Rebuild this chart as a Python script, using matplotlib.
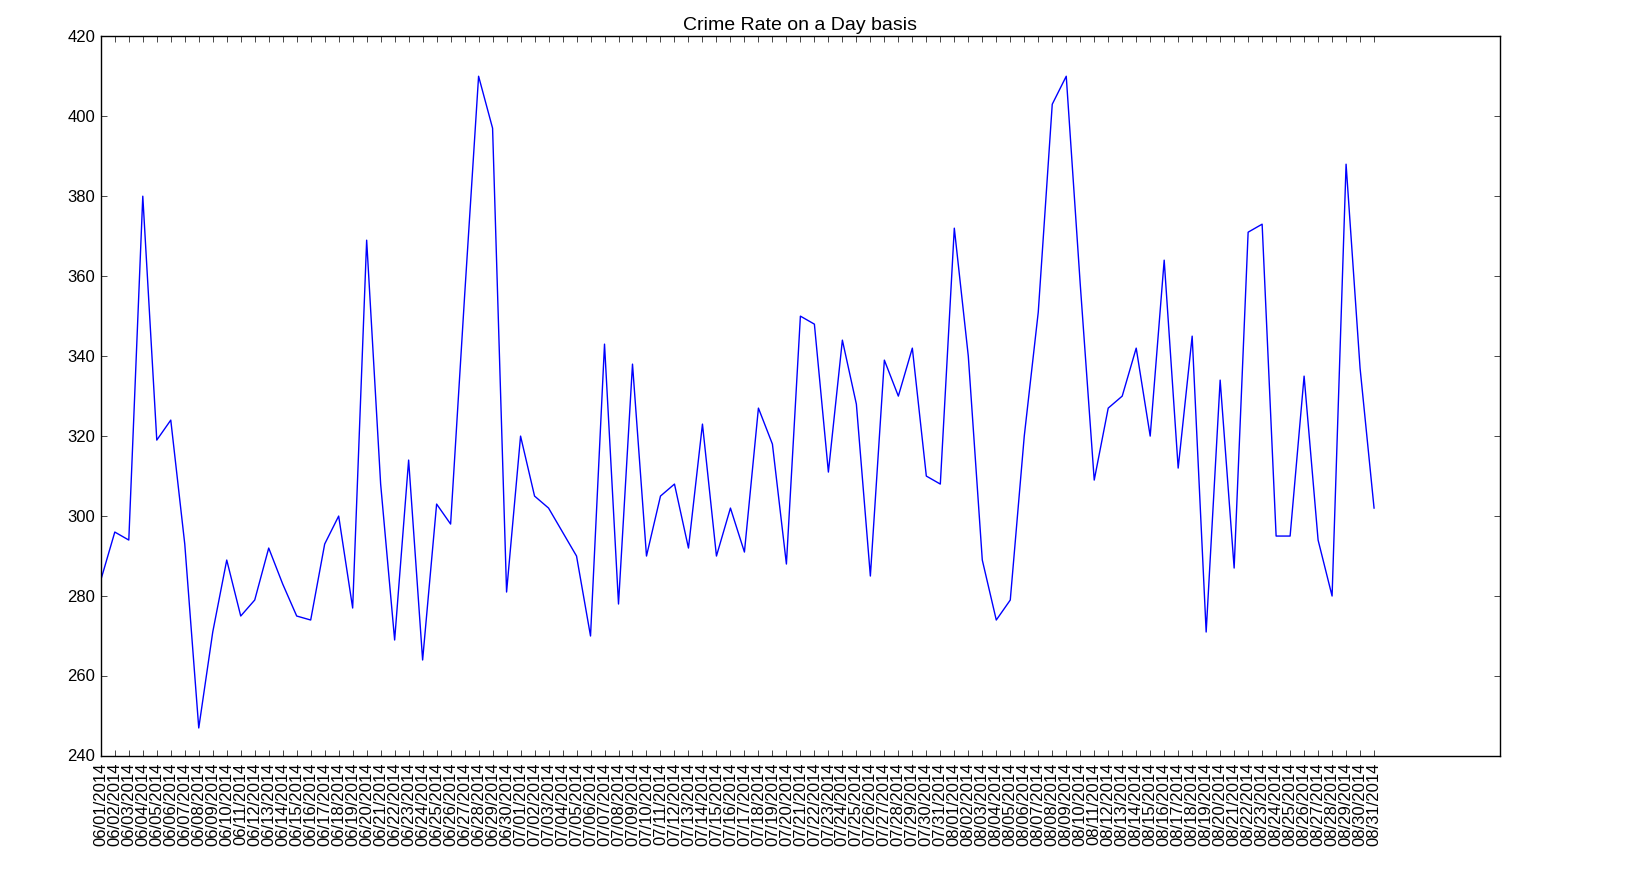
import matplotlib
matplotlib.use('Agg')
import matplotlib.pyplot as plt
import pandas as pd

plt.style.use('classic')
plt.rcParams['font.family'] = ['Liberation Sans', 'DejaVu Sans']

# daily counts, 06/01/2014 .. 08/31/2014
dates = pd.date_range('2014-06-01', '2014-08-31', freq='D').strftime('%m/%d/%Y').tolist()
crimes = [
    284, 296, 294, 380, 319, 324, 293, 247, 271, 289,
    275, 279, 292, 283, 275, 274, 293, 300, 277, 369,
    308, 269, 314, 264, 303, 298, 355, 410, 397, 281,
    320, 305, 302, 296, 290, 270, 343, 278, 338, 290,
    305, 308, 292, 323, 290, 302, 291, 327, 318, 288,
    350, 348, 311, 344, 328, 285, 339, 330, 342, 310,
    308, 372, 340, 289, 274, 279, 320, 351, 403, 410,
    358, 309, 327, 330, 342, 320, 364, 312, 345, 271,
    334, 287, 371, 373, 295, 295, 335, 294, 280, 388,
    337, 302,
]

fig, ax = plt.subplots(figsize=(16.26, 8.87), dpi=100)
fig.subplots_adjust(left=0.062, right=0.9225, top=0.958, bottom=0.1466)

x = range(len(dates))
ax.plot(x, crimes, color='b', linewidth=1)
ax.set_xticks(list(x))
ax.set_xticklabels(dates, rotation=90, fontsize=12)
ax.tick_params(axis='y', labelsize=12)
ax.set_xlim(0, 100)
ax.set_ylim(240, 420)
ax.set_title('Crime Rate on a Day basis', fontsize=14)

fig.savefig('out.png', dpi=100, facecolor='white')
